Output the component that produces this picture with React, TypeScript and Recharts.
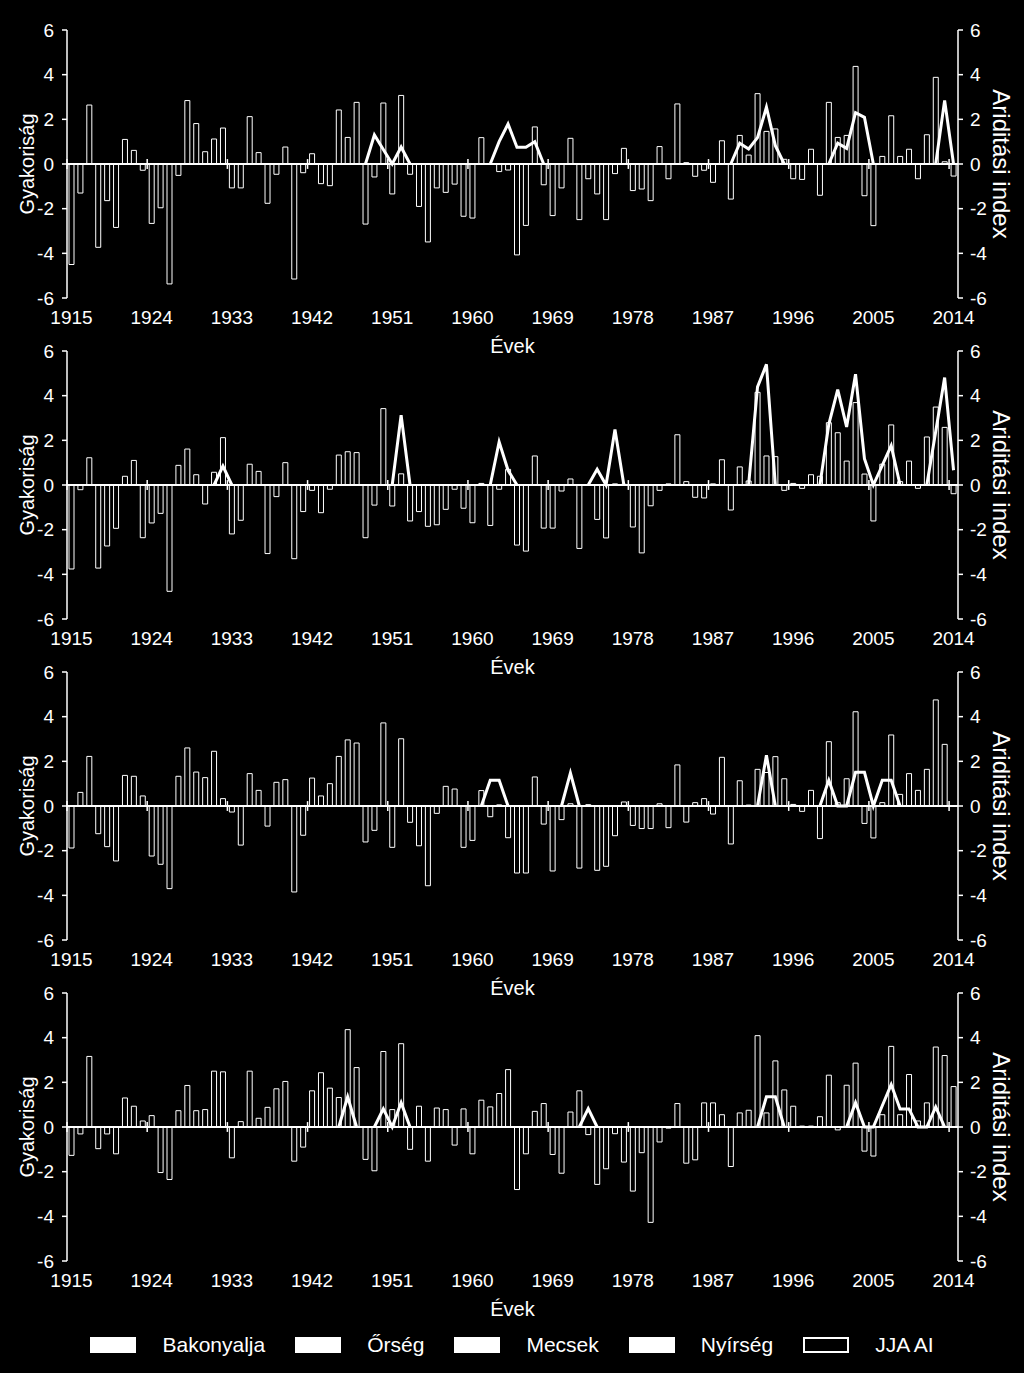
import { ComposedChart, Bar, Line, XAxis, YAxis, ReferenceLine } from "recharts";

// 1915..2014, one bar per year
const years = Array.from({ length: 100 }, (_, i) => 1915 + i);
const tickYears = [1915, 1924, 1933, 1942, 1951, 1960, 1969, 1978, 1987, 1996, 2005, 2014];
const yTicks = [-6, -4, -2, 0, 2, 4, 6];

// frequency anomalies per region
const bakonyalja = [
  -4.5, -1.3, 2.64, -3.73, -1.64, -2.84, 1.1, 0.61, -0.28, -2.66,
  -1.96, -5.37, -0.51, 2.84, 1.81, 0.55, 1.12, 1.61, -1.07, -1.07,
  2.12, 0.51, -1.76, -0.46, 0.76, -5.15, -0.39, 0.46, -0.88, -0.97,
  2.42, 1.19, 2.76, -2.69, -0.58, 2.73, -1.34, 3.07, -0.46, -1.9,
  -3.49, -1.07, -1.27, -0.9, -2.34, -2.42, 1.18, 0, -0.34, -0.27,
  -4.07, -2.75, 1.66, -0.93, -2.31, -1.07, 1.15, -2.49, -0.66, -1.34,
  -2.49, -0.43, 0.7, -1.19, -1.12, -1.64, 0.78, -0.66, 2.69, 0.06,
  -0.55, -0.28, -0.82, 1.04, -1.57, 1.28, 0.4, 3.15, 1.46, 1.57,
  0.21, -0.66, -0.69, 0.66, -1.4, 2.76, 1.19, 1.28, 4.37, -1.42,
  -2.76, 0.34, 2.16, 0.34, 0.66, -0.66, 1.31, 3.88, 0.1, -0.54,
];

const orseg = [
  -3.76, -0.21, 1.22, -3.72, -2.73, -1.94, 0.39, 1.1, -2.36, -1.7,
  -1.27, -4.76, 0.88, 1.61, 0.46, -0.85, 0.57, 2.12, -2.19, -1.58,
  0.93, 0.61, -3.07, -0.52, 1.0, -3.3, -1.19, -0.24, -1.24, -0.19,
  1.34, 1.49, 1.45, -2.36, -0.9, 3.42, -0.94, 0.5, -1.61, -1.19,
  -1.85, -1.78, -1.09, -0.19, -1.04, -1.69, 0.07, -1.81, -0.19, 0.7,
  -2.69, -2.96, 1.3, -1.93, -1.93, -0.27, 0.27, -2.84, 0, -1.54,
  -2.37, 0.05, 0.03, -1.88, -3.04, -0.93, -0.24, 0.05, 2.25, 0.15,
  -0.55, -0.58, 0.05, 1.13, -1.12, 0.81, 0.18, 4.15, 1.3, 1.27,
  -0.24, 0.07, -0.15, 0.46, 0.39, 2.79, 2.34, 1.07, 3.69, 0.49,
  -1.61, 0.93, 2.69, 0.15, 1.07, -0.15, 2.15, 3.49, 2.58, -0.39,
];

const mecsek = [
  -1.88, 0.61, 2.22, -1.24, -1.82, -2.46, 1.37, 1.33, 0.45, -2.24,
  -2.61, -3.7, 1.33, 2.6, 1.52, 1.27, 2.45, 0.33, -0.27, -1.75,
  1.45, 0.7, -0.9, 1.06, 1.18, -3.85, -1.31, 1.25, 0.45, 1.0,
  2.22, 2.96, 2.82, -1.61, -1.09, 3.72, -1.85, 3.01, -0.73, -1.78,
  -3.57, -0.33, 0.88, 0.76, -1.85, -1.54, 0.69, -0.48, 0.05, -1.42,
  -3.0, -3.0, 1.3, -0.81, -2.91, -0.61, 0.1, -2.78, 0.06, -2.88,
  -2.7, -1.33, 0.18, -0.87, -1.01, -1.01, 0.1, -0.97, 1.84, -0.72,
  0.15, 0.33, -0.36, 2.18, -1.7, 1.13, 0.04, 1.64, 1.5, 2.21,
  1.22, 0.07, -0.24, 0.7, -1.46, 2.88, 0.15, 1.22, 4.22, -0.78,
  -1.43, 0.15, 3.18, 0.52, 1.45, 0.7, 1.64, 4.75, 2.76, 0,
];

const nyirseg = [
  -1.27, -0.31, 3.16, -0.97, -0.31, -1.2, 1.3, 0.93, 0.27, 0.51,
  -2.04, -2.35, 0.73, 1.86, 0.73, 0.78, 2.5, 2.47, -1.38, 0.24,
  2.5, 0.39, 0.88, 1.71, 2.04, -1.53, -0.9, 1.62, 2.43, 1.74,
  1.32, 4.36, 2.66, -1.45, -1.96, 3.38, 0.78, 3.73, -1.0, 0.93,
  -1.53, 0.85, 0.78, -0.81, 0.81, -1.2, 1.2, 0.9, 1.5, 2.57,
  -2.8, -1.2, 0.7, 1.05, -1.23, -2.07, 0.67, 1.62, -0.34, -2.57,
  -1.87, -0.3, -1.57, -2.87, -1.15, -4.27, -0.67, -0.05, 1.05, -1.62,
  -1.47, 1.08, 1.08, 0.55, -1.77, 0.63, 0.75, 4.09, 0.63, 2.96,
  1.66, 0.93, 0.04, 0.04, 0.46, 2.32, -0.13, 1.87, 2.86, -1.08,
  -1.3, 0.55, 3.61, 0.55, 2.35, 0.27, 1.08, 3.58, 3.2, 1.81,
];

// JJA aridity index, [year, value]; years not listed have no line
const aiBakonyalja: [number, number][] = [
  [1948, 0], [1949, 1.3], [1950, 0.65], [1951, 0], [1952, 0.76], [1953, 0],
  [1962, 0], [1963, 1.0], [1964, 1.79], [1965, 0.75], [1966, 0.75], [1967, 1.0], [1968, 0],
  [1989, 0], [1990, 0.93], [1991, 0.67], [1992, 1.18], [1993, 2.54], [1994, 0.82], [1995, 0],
  [2000, 0], [2001, 0.93], [2002, 0.7], [2003, 2.3], [2004, 2.09], [2005, 0],
  [2012, 0], [2013, 2.85], [2014, 0],
];

const aiOrseg: [number, number][] = [
  [1931, 0], [1932, 0.85], [1933, 0],
  [1951, 0], [1952, 3.13], [1953, 0],
  [1962, 0], [1963, 1.93], [1964, 0.66], [1965, 0],
  [1973, 0], [1974, 0.7], [1975, 0], [1976, 2.48], [1977, 0],
  [1991, 0], [1992, 4.39], [1993, 5.4], [1994, 0],
  [1999, 0], [2000, 2.72], [2001, 4.27], [2002, 2.6], [2003, 4.96], [2004, 1.18], [2005, 0],
  [2006, 0.88], [2007, 1.76], [2008, 0],
  [2011, 0], [2012, 2.4], [2013, 4.81], [2014, 0.66],
];

const aiMecsek: [number, number][] = [
  [1961, 0], [1962, 1.15], [1963, 1.15], [1964, 0],
  [1970, 0], [1971, 1.48], [1972, 0],
  [1992, 0], [1993, 2.27], [1994, 0],
  [1999, 0], [2000, 1.15], [2001, 0], [2002, 0], [2003, 1.51], [2004, 1.51], [2005, 0],
  [2006, 1.15], [2007, 1.15], [2008, 0],
];

const aiNyirseg: [number, number][] = [
  [1945, 0], [1946, 1.35], [1947, 0],
  [1949, 0], [1950, 0.81], [1951, 0], [1952, 1.09], [1953, 0],
  [1972, 0], [1973, 0.82], [1974, 0],
  [1992, 0], [1993, 1.35], [1994, 1.35], [1995, 0],
  [2002, 0], [2003, 1.09], [2004, 0], [2005, 0], [2006, 0.95], [2007, 1.9], [2008, 0.81], [2009, 0.81], [2010, 0],
  [2011, 0], [2012, 0.9], [2013, 0],
];

const panels = [
  { name: "Bakonyalja", values: bakonyalja, ai: aiBakonyalja },
  { name: "Őrség", values: orseg, ai: aiOrseg },
  { name: "Mecsek", values: mecsek, ai: aiMecsek },
  { name: "Nyírség", values: nyirseg, ai: aiNyirseg },
];

const WHITE = "#fff";
const FONT = "Arial, 'Liberation Sans', sans-serif";

const SideTitle = ({ viewBox, text, dx, angle, size }: any) => {
  const cy = viewBox.y + viewBox.height / 2;
  const cx = viewBox.x + dx;
  return (
    <text
      x={cx}
      y={cy}
      fill={WHITE}
      fontSize={size}
      textAnchor="middle"
      dominantBaseline="central"
      transform={`rotate(${angle}, ${cx}, ${cy})`}
    >
      {text}
    </text>
  );
};

const BottomTitle = ({ viewBox }: any) => (
  <text
    x={viewBox.x + viewBox.width / 2}
    y={viewBox.y + 55}
    fill={WHITE}
    fontSize={20}
    textAnchor="middle"
  >
    Évek
  </text>
);

const Panel = ({ values, ai, top }: { values: number[]; ai: [number, number][]; top: number }) => {
  const aiByYear = new Map(ai);
  const data = years.map((year, i) => ({
    year,
    value: values[i],
    ai: aiByYear.has(year) ? aiByYear.get(year) : null,
  }));

  return (
    <div style={{ position: "absolute", left: 0, top }}>
      <ComposedChart
        width={1024}
        height={360}
        data={data}
        margin={{ top: 30, right: 0, bottom: 0, left: 0 }}
      >
        <XAxis
          dataKey="year"
          type="number"
          domain={[1914.5, 2014.5]}
          ticks={tickYears}
          interval={0}
          axisLine={false}
          tickLine={false}
          tickSize={0}
          tickMargin={13}
          height={62}
          tick={{ fill: WHITE, fontSize: 19 }}
          label={(p: any) => <BottomTitle viewBox={p.viewBox} />}
        />
        <YAxis
          yAxisId="left"
          domain={[-6, 6]}
          ticks={yTicks}
          width={67}
          tickSize={5}
          tickMargin={8}
          axisLine={{ stroke: WHITE, strokeWidth: 1.5 }}
          tickLine={{ stroke: WHITE, strokeWidth: 1.5 }}
          tick={{ fill: WHITE, fontSize: 19 }}
          label={(p: any) => (
            <SideTitle viewBox={p.viewBox} text="Gyakoriság" dx={27} angle={-90} size={20} />
          )}
        />
        <YAxis
          yAxisId="right"
          orientation="right"
          domain={[-6, 6]}
          ticks={yTicks}
          width={66}
          tickSize={5}
          tickMargin={7}
          axisLine={{ stroke: WHITE, strokeWidth: 1.5 }}
          tickLine={{ stroke: WHITE, strokeWidth: 1.5 }}
          tick={{ fill: WHITE, fontSize: 19 }}
          label={(p: any) => (
            <SideTitle viewBox={p.viewBox} text="Ariditási index" dx={43} angle={90} size={24} />
          )}
        />
        <Bar
          yAxisId="left"
          dataKey="value"
          barSize={5}
          fill="#000"
          stroke={WHITE}
          strokeWidth={1}
          isAnimationActive={false}
        />
        <ReferenceLine yAxisId="left" y={0} stroke={WHITE} strokeWidth={2} />
        {tickYears.map((t) => (
          <ReferenceLine
            key={t}
            yAxisId="left"
            segment={[{ x: t - 0.5, y: -0.22 }, { x: t - 0.5, y: 0.22 }]}
            stroke={WHITE}
            strokeWidth={1.5}
          />
        ))}
        <Line
          yAxisId="right"
          dataKey="ai"
          stroke={WHITE}
          strokeWidth={3}
          dot={false}
          activeDot={false}
          connectNulls={false}
          isAnimationActive={false}
        />
      </ComposedChart>
    </div>
  );
};

const LegendSwatch = ({ hollow }: { hollow?: boolean }) => (
  <span
    style={{
      display: "inline-block",
      width: hollow ? 42 : 46,
      height: hollow ? 12 : 16,
      background: hollow ? "#000" : WHITE,
      border: hollow ? `2px solid ${WHITE}` : "none",
      marginRight: 26,
    }}
  />
);

export default function App() {
  return (
    <div
      style={{
        position: "absolute",
        left: 0,
        top: 0,
        width: 1024,
        height: 1373,
        background: "#000",
        fontFamily: FONT,
        overflow: "hidden",
      }}
    >
      {panels.map((p, i) => (
        <Panel key={p.name} values={p.values} ai={p.ai} top={i * 321} />
      ))}
      <div
        style={{
          position: "absolute",
          left: 0,
          top: 1333,
          width: 1024,
          display: "flex",
          justifyContent: "center",
          alignItems: "center",
          color: WHITE,
          fontSize: 21,
          lineHeight: "24px",
        }}
      >
        {panels.map((p) => (
          <span key={p.name} style={{ display: "flex", alignItems: "center", marginRight: 30 }}>
            <LegendSwatch />
            {p.name}
          </span>
        ))}
        <span style={{ display: "flex", alignItems: "center" }}>
          <LegendSwatch hollow />
          JJA AI
        </span>
      </div>
    </div>
  );
}
